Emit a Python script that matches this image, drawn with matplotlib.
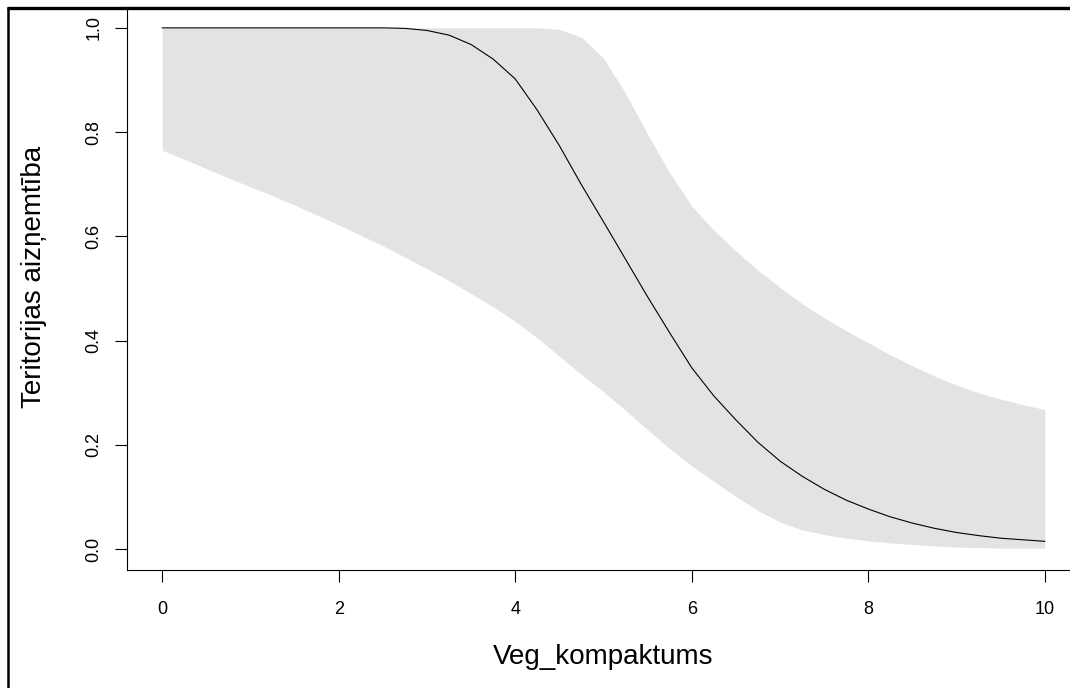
import matplotlib
matplotlib.use("Agg")
import matplotlib.pyplot as plt
from matplotlib.lines import Line2D

# Data
x_vals = [0.0, 0.25, 0.5, 0.75, 1.0, 1.25, 1.5, 1.75, 2.0, 2.25, 2.5, 2.75,
          3.0, 3.25, 3.5, 3.75, 4.0, 4.25, 4.5, 4.75, 5.0, 5.25, 5.5, 5.75,
          6.0, 6.25, 6.5, 6.75, 7.0, 7.25, 7.5, 7.75, 8.0, 8.25, 8.5, 8.75,
          9.0, 9.25, 9.5, 9.75, 10.0]
mean_vals = [1.0, 1.0, 1.0, 1.0, 1.0, 1.0, 1.0, 1.0, 1.0, 1.0, 1.0, 0.999,
             0.995, 0.986, 0.968, 0.94, 0.902, 0.842, 0.774, 0.699, 0.628, 0.556, 0.484, 0.415,
             0.348, 0.294, 0.248, 0.205, 0.169, 0.14, 0.115, 0.094, 0.077, 0.062, 0.05, 0.04,
             0.032, 0.026, 0.021, 0.018, 0.015]
upper_vals = [1.0, 1.0, 1.0, 1.0, 1.0, 1.0, 1.0, 1.0, 1.0, 1.0, 1.0, 1.0,
              1.0, 1.0, 1.0, 1.0, 1.0, 1.0, 0.997, 0.982, 0.942, 0.874, 0.796, 0.722,
              0.658, 0.612, 0.572, 0.535, 0.502, 0.471, 0.444, 0.419, 0.396, 0.373, 0.352, 0.332,
              0.315, 0.3, 0.288, 0.277, 0.268]
lower_vals = [0.765, 0.748, 0.73, 0.712, 0.695, 0.678, 0.66, 0.641, 0.622, 0.602, 0.582, 0.56,
              0.538, 0.515, 0.49, 0.465, 0.437, 0.405, 0.37, 0.335, 0.302, 0.266, 0.229, 0.193,
              0.16, 0.13, 0.101, 0.074, 0.052, 0.037, 0.028, 0.021, 0.016, 0.012, 0.009, 0.006,
              0.004, 0.003, 0.002, 0.002, 0.002]
x_ticks = [0, 2, 4, 6, 8, 10]
y_ticks = [0.0, 0.2, 0.4, 0.6, 0.8, 1.0]
y_tick_labels = ["0.0", "0.2", "0.4", "0.6", "0.8", "1.0"]
x_label = "Veg_kompaktums"
y_label = "Teritorijas aizņemtība"

plt.rcParams['font.family'] = ['Liberation Sans', 'DejaVu Sans']

W, H = 1070, 688
fig = plt.figure(figsize=(W / 100, H / 100), dpi=100)
fig.patch.set_facecolor('white')

# plot region (extends past the right edge like the reference crop)
l, r, t, b = 127, 1080, 7, 570
ax = fig.add_axes([l / W, (H - b) / H, (r - l) / W, (b - t) / H])

ax.fill_between(x_vals, lower_vals, upper_vals, color='#e3e3e3', linewidth=0)
ax.plot(x_vals, mean_vals, color='black', linewidth=0.8)

ax.set_xlim(-0.4, 10.4)
ax.set_ylim(-0.04, 1.04)
ax.set_xticks(x_ticks)
ax.set_xticklabels([str(v) for v in x_ticks])
ax.set_yticks(y_ticks)
ax.set_yticklabels(y_tick_labels, rotation=90, va='center')
ax.tick_params(axis='both', direction='out', length=8.6, width=0.8,
               labelsize=13, colors='black')
ax.tick_params(axis='x', pad=13.5)
ax.tick_params(axis='y', pad=9)
for s in ax.spines.values():
    s.set_linewidth(0.8)
    s.set_color('black')

ax.set_xlabel(x_label, fontsize=20, labelpad=19)
ax.set_ylabel(y_label, fontsize=20)
ax.yaxis.set_label_coords(-80 / (r - l), 0.52)

# outer screenshot frame (left and top)
fig.add_artist(Line2D([7.5 / W, 7.5 / W], [0, 1 - 7 / H], transform=fig.transFigure,
                      color='black', linewidth=1.8, solid_capstyle='butt'))
fig.add_artist(Line2D([7 / W, 1.0], [1 - 7.5 / H, 1 - 7.5 / H], transform=fig.transFigure,
                      color='black', linewidth=2.4, solid_capstyle='butt'))

fig.savefig('out.png', dpi=100)
